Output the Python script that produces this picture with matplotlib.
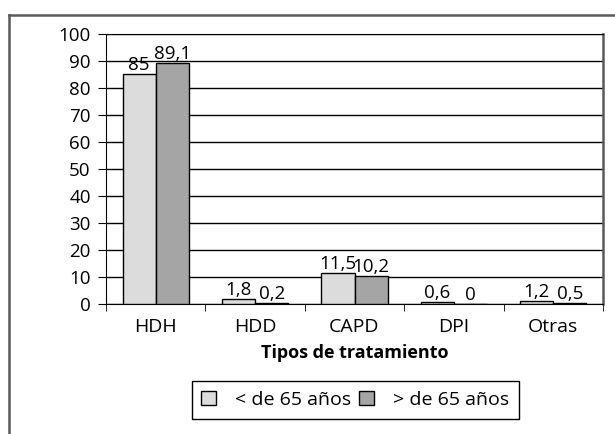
import matplotlib
matplotlib.use('Agg')
import matplotlib.pyplot as plt
from matplotlib.lines import Line2D
import numpy as np

# Porcentaje de pacientes por tipo de tratamiento y grupo de edad
categorias = ['HDH', 'HDD', 'CAPD', 'DPI', 'Otras']
menores_65 = [85, 1.8, 11.5, 0.6, 1.2]
mayores_65 = [89.1, 0.2, 10.2, 0, 0.5]
series_labels = ['< de 65 años', '> de 65 años']

LIGHT = '#dcdcdc'
DARK = '#a5a5a5'
FRAME = '#5a5a5a'

plt.rcParams['font.family'] = ['Open Sans', 'DejaVu Sans']

fig = plt.figure(figsize=(6.15, 4.34), dpi=100)
fig.patch.set_facecolor('white')
ax = fig.add_axes([106 / 615, 1 - 304 / 434, 497 / 615, 270 / 434])

x = np.arange(len(categorias))
w = 1 / 3
b1 = ax.bar(x - w / 2, menores_65, w, color=LIGHT, edgecolor='black',
            linewidth=1, label=series_labels[0], zorder=3)
b2 = ax.bar(x + w / 2, mayores_65, w, color=DARK, edgecolor='black',
            linewidth=1, label=series_labels[1], zorder=3)

def fmt(v):
    return f'{v:g}'.replace('.', ',')

ax.bar_label(b1, labels=[fmt(v) for v in menores_65], padding=0, fontsize=13.5)
ax.bar_label(b2, labels=[fmt(v) for v in mayores_65], padding=0, fontsize=13.5)

ax.set_xlim(-0.5, len(categorias) - 0.5)
ax.set_ylim(0, 100)
ax.set_yticks(np.arange(0, 101, 10))
ax.yaxis.grid(True, color='black', linewidth=1, zorder=0)
ax.set_axisbelow(True)

# categorías centradas, marcas en los límites entre grupos
ax.set_xticks(x)
ax.set_xticklabels(categorias, fontsize=14)
ax.tick_params(axis='x', length=0, pad=10)
ax.set_xticks(np.arange(-0.5, len(categorias)), minor=True)
ax.tick_params(axis='x', which='minor', length=5, direction='out', color='black')
ax.tick_params(axis='y', labelsize=13.5, length=6, direction='out', pad=5)

ax.set_xlabel('Tipos de tratamiento', fontsize=13, fontweight='bold', labelpad=6)

ax.spines['left'].set_color('black')
ax.spines['bottom'].set_color('black')
ax.spines['top'].set_color('black')
ax.spines['right'].set_color(FRAME)
ax.spines['right'].set_linewidth(1.8)

leg = fig.legend(loc='center', bbox_to_anchor=(355.5 / 615, 1 - 400 / 434),
                 ncol=2, fontsize=14, frameon=True, fancybox=False,
                 edgecolor='black', framealpha=1, handlelength=0.75,
                 handleheight=0.75, handletextpad=1.0, columnspacing=0.4,
                 borderpad=0.5, borderaxespad=0)
leg.get_frame().set_linewidth(1)

# marco exterior del gráfico
fig.add_artist(Line2D([9 / 615, 9 / 615], [0, 1 - 15 / 434], color=FRAME,
                      linewidth=1.8, transform=fig.transFigure))
fig.add_artist(Line2D([9 / 615, 1], [1 - 15 / 434, 1 - 15 / 434], color=FRAME,
                      linewidth=1.8, transform=fig.transFigure))

fig.savefig('out.png', dpi=100, facecolor='white')
